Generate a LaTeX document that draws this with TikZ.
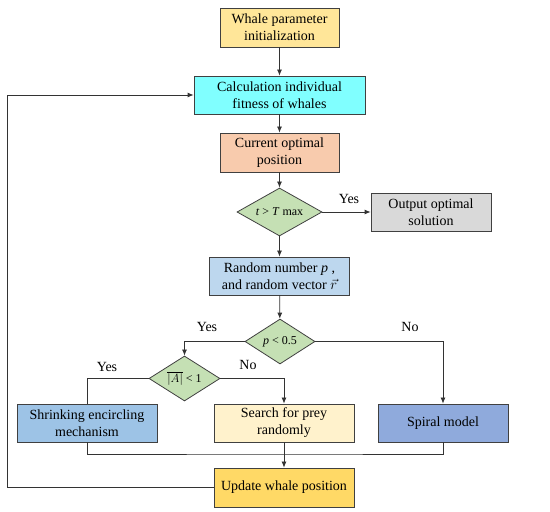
\documentclass[tikz,border=0pt]{standalone}
\usepackage{fontspec}
\setmainfont{Liberation Serif}
\usetikzlibrary{shapes.geometric,arrows.meta}
\definecolor{initc}{HTML}{FFE699}
\definecolor{calcc}{HTML}{80FFFF}
\definecolor{curc}{HTML}{F8CBAD}
\definecolor{decc}{HTML}{C5E0B4}
\definecolor{outc}{HTML}{D9D9D9}
\definecolor{rndc}{HTML}{BDD7EE}
\definecolor{shrc}{HTML}{9DC3E6}
\definecolor{srchc}{HTML}{FFF2CC}
\definecolor{spic}{HTML}{8FAADC}
\definecolor{updc}{HTML}{FFD966}
\begin{document}
\begin{tikzpicture}[
			x=1pt, y=1pt,
			box/.style={draw=black!75, line width=0.8pt, align=center, inner sep=0pt,
				minimum height=38pt, font=\fontsize{14}{17}\selectfont},
			dec/.style={diamond, draw=black!75, line width=0.8pt, fill=decc, inner sep=0pt,
				aspect=1.6, font=\fontsize{12}{14}\selectfont},
			lbl/.style={font=\fontsize{14}{17}\selectfont},
			line/.style={draw=black!80, line width=0.8pt},
			arr/.style={line, -{Latex[length=6pt,width=5pt]}}
		]
		\useasboundingbox (0,0) rectangle (550,512);
		\node[box, fill=initc, minimum width=119pt, minimum height=39pt] (init) at (279.5,484.5) {Whale parameter\\initialization};
		\node[box, fill=calcc, minimum width=171pt] (calc) at (279.5,417) {Calculation individual\\fitness of whales};
		\node[box, fill=curc, minimum width=119pt, minimum height=39pt] (cur) at (279.5,359.5) {Current optimal\\position};
		\node[dec, minimum width=85pt, minimum height=48pt] (tmax) at (279.5,300) {\textit{t} > \textit{T} max};
		\node[box, fill=outc, minimum width=120pt] (out) at (431,300) {Output optimal\\solution};
		\node[box, fill=rndc, minimum width=140pt] (rnd) at (279.5,236) {Random number \textit{p} ,\\and random vector $\vec{r}$};
		\node[dec, minimum width=70pt, minimum height=45pt] (pdec) at (280,170.5) {\textit{p} < 0.5};
		\node[dec, minimum width=71pt, minimum height=45pt] (adec) at (184.5,133.5) {$\overline{|A|}$ < 1};
		\node[box, fill=shrc, minimum width=140pt] (shr) at (87,89) {Shrinking encircling\\mechanism};
		\node[box, fill=srchc, minimum width=140pt] (srch) at (284,89) {Search for prey\\randomly};
		\node[box, fill=spic, minimum width=130pt] (spi) at (443,89) {Spiral model};
		\node[box, fill=updc, minimum width=140pt, minimum height=39pt] (upd) at (284,24.5) {Update whale position};
		% labels
		\node[lbl] (yes1) at (349,313) {Yes};
		\node[lbl] (yes2) at (207,185) {Yes};
		\node[lbl] (no2) at (410,185) {No};
		\node[lbl] (yes3) at (107,145) {Yes};
		\node[lbl] (no3) at (248,147) {No};
		% connectors
		\coordinate (mrg) at (284,58);
		\draw[arr] (init) -- (calc);
		\draw[arr] (calc) -- (cur);
		\draw[arr] (cur) -- (tmax);
		\draw[arr] (tmax) -- (out);
		\draw[arr] (tmax) -- (rnd);
		\draw[arr] (rnd) -- (pdec);
		\draw[arr] (pdec.west) -| (adec.north);
		\draw[arr] (pdec.east) -| (spi.north);
		\draw[line] (adec.west) -| (shr.north);
		\draw[arr] (adec.east) -| (srch.north);
		\draw[line] (shr.south) |- (mrg) -| (spi.south);
		\draw[arr] (srch.south) -- (upd.north);
		\draw[arr] (upd.west) -| (7,417) -- (calc.west);
	\end{tikzpicture}
\end{document}
